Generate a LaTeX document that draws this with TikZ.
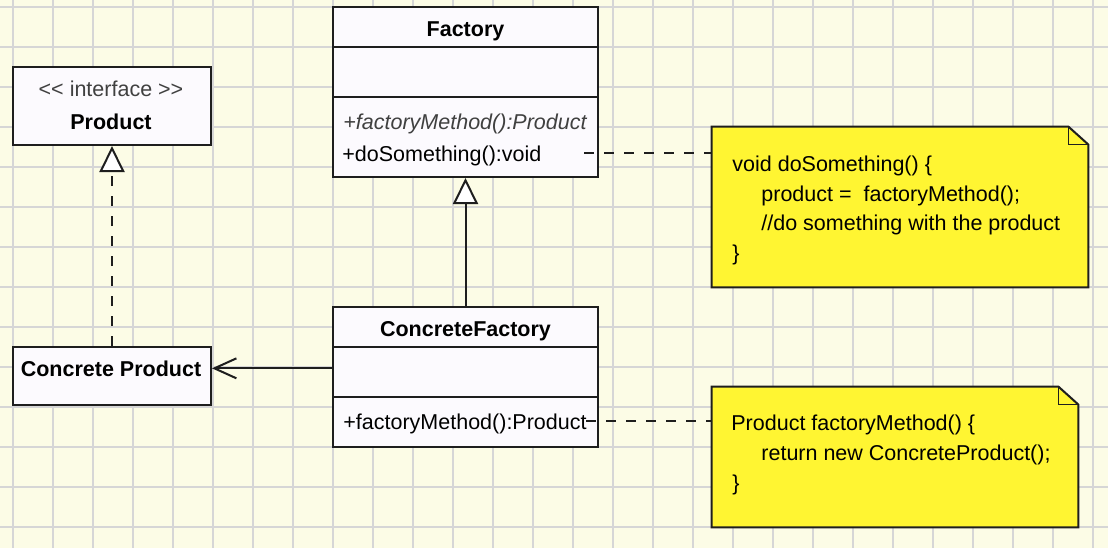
\documentclass[tikz,border=0pt]{standalone}
\usepackage{fontspec}
\setmainfont{Liberation Sans}
\usetikzlibrary{arrows.meta,fit,calc}
\definecolor{bgcream}{RGB}{252,252,230}
\definecolor{gridgray}{RGB}{214,214,214}
\definecolor{boxfill}{RGB}{252,250,254}
\definecolor{noteyellow}{RGB}{255,245,50}
\definecolor{linedark}{RGB}{30,30,30}
\definecolor{stereo}{RGB}{64,64,64}
\begin{document}
\begin{tikzpicture}[x=0.5pt,y=-0.5pt,
  gridline/.style={draw=gridgray, line width=1.1pt},
  umlbox/.style={draw=linedark, line width=1pt, fill=boxfill, inner sep=0pt},
  divider/.style={draw=linedark, line width=1pt},
  notebox/.style={draw=linedark, line width=1pt, fill=noteyellow, line join=miter},
  notefold/.style={draw=linedark, line width=0.8pt},
  anchorbox/.style={inner sep=0pt},
  txt/.style={inner sep=0pt, font=\fontsize{10.75pt}{13pt}\selectfont, text=black},
  boldtxt/.style={inner sep=0pt, font=\fontsize{10.75pt}{13pt}\selectfont\bfseries, text=black},
  itxt/.style={inner sep=0pt, font=\fontsize{10.75pt}{13pt}\selectfont\itshape, text=stereo},
  stereotxt/.style={inner sep=0pt, font=\fontsize{10.75pt}{13pt}\selectfont, text=stereo},
  realize/.style={draw=linedark, line width=1pt, dash pattern=on 5pt off 5pt,
    -{Triangle[length=13pt,width=12.5pt,fill=white]}},
  inherit/.style={draw=linedark, line width=1pt,
    -{Triangle[length=13pt,width=12.5pt,fill=white]}},
  assoc/.style={draw=linedark, line width=1pt, -{Straight Barb[length=11pt,width=10pt]}},
  notelink/.style={draw=linedark, line width=1pt, dash pattern=on 5pt off 5pt}
]
\useasboundingbox (0,0) rectangle (1108,548);
\fill[bgcream] (0,0) rectangle (1108,548);
\foreach \x in {13,53,...,1093} \draw[gridline] (\x,0) -- (\x,548);
\foreach \y in {7,47,...,527} \draw[gridline] (0,\y) -- (1108,\y);

% Product interface
\node[umlbox, fit={(13,67) (211,145)}] (product) {};
\node[stereotxt, anchor=base] (prodst) at (111,96) {<\kern0pt< interface >\kern0pt>};
\node[boldtxt, anchor=base] (prodname) at (111,129) {Product};

% Concrete Product
\node[umlbox, fit={(13,347) (211,405)}] (cprod) {};
\node[boldtxt, anchor=base] (cpname) at (111,376) {Concrete Product};

% Factory
\node[umlbox, fit={(333,7) (598,177)}] (factory) {};
\draw[divider] (333,47) -- (598,47);
\draw[divider] (333,97) -- (598,97);
\node[boldtxt, anchor=base] (facname) at (465.5,36) {Factory};
\node[itxt, anchor=base west] (facop1) at (343,129) {+factoryMethod():Product};
\node[txt, anchor=base west] (facop2) at (342,161) {+doSomething():void};

% ConcreteFactory
\node[umlbox, fit={(333,307) (598,447)}] (cfac) {};
\draw[divider] (333,347) -- (598,347);
\draw[divider] (333,397) -- (598,397);
\node[boldtxt, anchor=base] (cfname) at (465.5,336) {ConcreteFactory};
\node[txt, anchor=base west] (cfop) at (343,429) {+factoryMethod():Product};

% Notes
\node[anchorbox, fit={(712,127) (1088,287)}] (note1) {};
\filldraw[notebox] (note1.north west) -- ([xshift=-10pt]note1.north east) -- ([yshift=-9pt]note1.north east) -- (note1.south east) -- (note1.south west) -- cycle;
\draw[notefold] ([xshift=-10pt]note1.north east) -- ([xshift=-10pt,yshift=-9pt]note1.north east) -- ([yshift=-9pt]note1.north east);
\node[txt, anchor=base west] (n1a) at (732,171) {void doSomething() \{};
\node[txt, anchor=base west] (n1b) at (761,201) {product = \ factoryMethod();};
\node[txt, anchor=base west] (n1c) at (761,230) {//do something with the product};
\node[txt, anchor=base west] (n1d) at (732,260) {\}};

\node[anchorbox, fit={(712,387) (1078,527)}] (note2) {};
\filldraw[notebox] (note2.north west) -- ([xshift=-10pt]note2.north east) -- ([yshift=-9pt]note2.north east) -- (note2.south east) -- (note2.south west) -- cycle;
\draw[notefold] ([xshift=-10pt]note2.north east) -- ([xshift=-10pt,yshift=-9pt]note2.north east) -- ([yshift=-9pt]note2.north east);
\node[txt, anchor=base west] (n2a) at (731,430) {Product factoryMethod() \{};
\node[txt, anchor=base west] (n2b) at (761,460) {return new ConcreteProduct();};
\node[txt, anchor=base west] (n2c) at (732,490) {\}};

% Connectors
\draw[realize] (cprod.north) -- (product.south);
\draw[inherit] (cfac.north) -- (factory.south);
\draw[assoc] (cfac.west |- cpname) -- (cprod.east |- cpname);
\coordinate (d1) at (584,153);
\coordinate (d2) at (586,421);
\draw[notelink] (d1) -- (d1 -| note1.west);
\draw[notelink] (d2) -- (d2 -| note2.west);
\end{tikzpicture}
\end{document}
